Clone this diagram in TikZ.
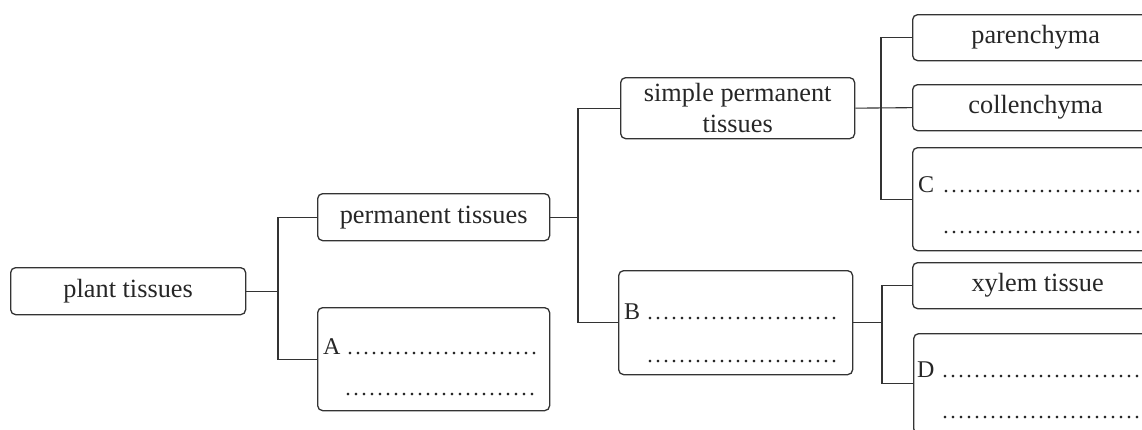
\documentclass[tikz,border=0pt]{standalone}
\usepackage{fontspec}
\setmainfont{Liberation Serif}
\newcommand\dotsrow[1]{\hbox to #1{\cleaders\hbox to 8pt{\hss.\hss}\hfill}}
\begin{document}
\begin{tikzpicture}[x=1pt,y=-1pt,
 box/.style={draw=black!80, line width=1.3pt, rounded corners=5pt, inner sep=0pt, anchor=north west, align=center, font=\fontsize{26.3}{31}\selectfont, text=black!85},
 conn/.style={draw=black!80, line width=1.1pt},
 lettr/.style={anchor=base west, inner sep=0pt, font=\fontsize{24}{28}\selectfont, text=black!85},
 dotrow/.style={anchor=base west, inner sep=0pt, font=\fontsize{22}{26}\selectfont, text=black!85}]
\useasboundingbox (0,0) rectangle (1142,429);
\clip (0,0) rectangle (1142,429);
\node[box, minimum width=235pt, minimum height=47pt] (plant) at (10,267) {plant tissues};
\node[box, minimum width=232pt, minimum height=47pt] (perm) at (317,193) {permanent tissues};
\node[box, minimum width=232pt, minimum height=103pt] (A) at (317,307) {};
\node[box, minimum width=234pt, minimum height=61pt] (simple) at (620,77) {simple permanent\\tissues};
\node[box, minimum width=234pt, minimum height=104pt] (B) at (618,270) {};
\node[box, minimum width=246pt, minimum height=46pt] (par) at (912,14) {parenchyma};
\node[box, minimum width=246pt, minimum height=46pt] (col) at (912,84) {collenchyma};
\node[box, minimum width=248pt, minimum height=103pt] (C) at (912,147) {};
\node[box, minimum width=250pt, minimum height=46pt] (xyl) at (912,262) {xylem tissue};
\node[box, minimum width=248pt, minimum height=100pt] (D) at (913,333) {};
\coordinate (j1) at (278,290);
\coordinate (j2) at (578,216);
\coordinate (j3) at (881,107);
\coordinate (j4) at (882,322);
\draw[conn] (plant.east) -- (plant.east -| j1);
\draw[conn] (perm.west) -| (j1) |- (A.west);
\draw[conn] (perm.east) -- (perm.east -| j2);
\draw[conn] (simple.west) -| (j2) |- (B.west);
\draw[conn] (simple.east) -- (col.west);
\draw[conn] (par.west) -| (j3) |- (C.west);
\draw[conn] (B.east) -- (B.east -| j4);
\draw[conn] (xyl.west) -| (j4) |- (D.west);
\node[lettr] (Al) at (323,354) {A};
\node[dotrow] (Ad1) at (346,354) {\dotsrow{192pt}};
\node[dotrow] (Ad2) at (344,395) {\dotsrow{192pt}};
\node[lettr] (Bl) at (624,319) {B};
\node[dotrow] (Bd1) at (646,319) {\dotsrow{192pt}};
\node[dotrow] (Bd2) at (646,362) {\dotsrow{192pt}};
\node[lettr] (Cl) at (918,192) {C};
\node[dotrow] (Cd1) at (942,192) {\dotsrow{200pt}};
\node[dotrow] (Cd2) at (942,233) {\dotsrow{200pt}};
\node[lettr] (Dl) at (917,377) {D};
\node[dotrow] (Dd1) at (941,377) {\dotsrow{200pt}};
\node[dotrow] (Dd2) at (941,418) {\dotsrow{200pt}};
\end{tikzpicture}
\end{document}
